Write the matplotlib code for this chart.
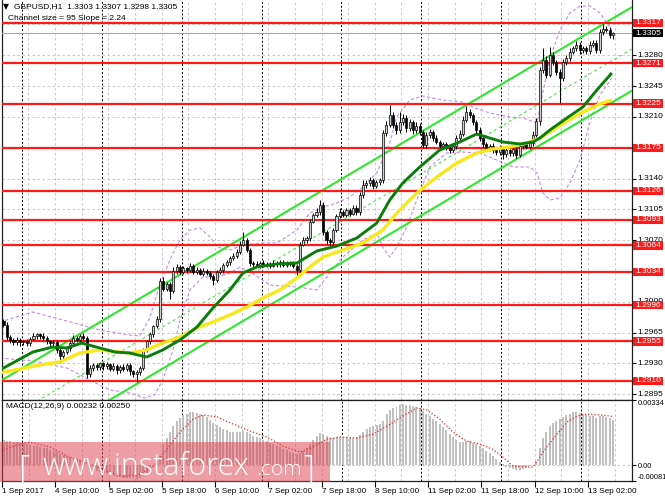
import numpy as np
import matplotlib.pyplot as plt
from matplotlib.patches import Rectangle
from matplotlib.transforms import blended_transform_factory

plt.rcParams['font.family'] = ['Liberation Sans', 'DejaVu Sans']

# ---- data --------------------------------------------------------------
SYMBOL = "GBPUSD,H1"
PIP = 0.0001
FIRST_OPEN = 1.2978

CLOSES = [
    1.2974, 1.2960, 1.2957, 1.2954, 1.2957, 1.2954, 1.2955, 1.2953, 1.2958, 1.2961, 1.2963, 1.2961, 1.2959, 1.2955, 1.2953, 1.2954,
    1.2945, 1.2938, 1.2943, 1.2947, 1.2953, 1.2959, 1.2957, 1.2961, 1.2959, 1.2918, 1.2925, 1.2928, 1.2926, 1.2930, 1.2927, 1.2929,
    1.2924, 1.2927, 1.2922, 1.2926, 1.2924, 1.2928, 1.2921, 1.2918, 1.2920, 1.2925, 1.2945, 1.2955, 1.2963, 1.2972, 1.2980, 1.3024,
    1.3015, 1.3020, 1.3012, 1.3035, 1.3040, 1.3034, 1.3038, 1.3036, 1.3041, 1.3034, 1.3036, 1.3032, 1.3035, 1.3033, 1.3029, 1.3025,
    1.3034, 1.3036, 1.3042, 1.3045, 1.3050, 1.3052, 1.3057, 1.3065, 1.3070, 1.3059, 1.3044, 1.3043, 1.3041, 1.3044, 1.3042, 1.3043,
    1.3041, 1.3044, 1.3043, 1.3045, 1.3042, 1.3044, 1.3043, 1.3041, 1.3036, 1.3065, 1.3070, 1.3072, 1.3091, 1.3099, 1.3102, 1.3110,
    1.3079, 1.3070, 1.3068, 1.3082, 1.3097, 1.3102, 1.3099, 1.3104, 1.3100, 1.3107, 1.3102, 1.3121, 1.3133, 1.3135, 1.3138, 1.3132,
    1.3136, 1.3138, 1.3192, 1.3201, 1.3212, 1.3201, 1.3195, 1.3204, 1.3209, 1.3197, 1.3204, 1.3195, 1.3200, 1.3193, 1.3178, 1.3189,
    1.3193, 1.3186, 1.3182, 1.3177, 1.3179, 1.3175, 1.3172, 1.3177, 1.3186, 1.3191, 1.3207, 1.3216, 1.3212, 1.3204, 1.3195, 1.3186,
    1.3179, 1.3175, 1.3177, 1.3172, 1.3170, 1.3175, 1.3168, 1.3172, 1.3169, 1.3174, 1.3167, 1.3177, 1.3179, 1.3176, 1.3180, 1.3190,
    1.3205, 1.3263, 1.3275, 1.3258, 1.3280, 1.3272, 1.3261, 1.3254, 1.3272, 1.3277, 1.3284, 1.3288, 1.3292, 1.3286, 1.3288, 1.3285,
    1.3292, 1.3294, 1.3286, 1.3306, 1.3310, 1.3309, 1.3303, 1.3305,
]

# wick lengths in pips above / below the body
UP_WICK = [
    2, 3, 2, 2, 3, 2, 2, 3, 2, 3, 2, 2, 3, 2, 2, 3,
    2, 3, 2, 3, 2, 3, 2, 2, 3, 2, 3, 2, 3, 2, 2, 3,
    2, 3, 2, 2, 3, 2, 3, 2, 3, 2, 3, 2, 3, 2, 4, 3,
    4, 3, 2, 4, 3, 2, 3, 2, 3, 2, 3, 2, 3, 2, 2, 3,
    2, 3, 2, 3, 2, 3, 3, 4, 9, 3, 2, 2, 3, 2, 3, 2,
    2, 3, 2, 2, 3, 2, 2, 3, 2, 3, 4, 3, 3, 2, 4, 6,
    3, 2, 3, 2, 3, 4, 2, 3, 2, 3, 3, 4, 5, 3, 4, 3,
    2, 3, 3, 4, 12, 4, 3, 12, 4, 3, 4, 3, 4, 3, 2, 4,
    3, 2, 3, 2, 3, 2, 3, 2, 3, 4, 4, 6, 3, 3, 2, 3,
    2, 3, 2, 3, 2, 3, 2, 3, 2, 3, 2, 3, 3, 2, 3, 4,
    4, 4, 13, 4, 9, 4, 3, 3, 4, 3, 4, 3, 4, 3, 3, 3,
    4, 3, 3, 4, 6, 3, 3, 2,
]
DOWN_WICK = [
    3, 3, 4, 3, 3, 4, 3, 3, 3, 2, 3, 3, 2, 3, 3, 3,
    3, 8, 3, 2, 3, 2, 3, 3, 2, 5, 3, 4, 3, 3, 4, 3,
    3, 3, 4, 3, 3, 3, 4, 4, 9, 3, 3, 2, 3, 3, 2, 3,
    3, 3, 9, 2, 3, 3, 2, 3, 2, 3, 3, 2, 3, 3, 3, 6,
    3, 2, 3, 2, 3, 3, 2, 3, 2, 3, 3, 3, 2, 3, 2, 3,
    3, 2, 3, 3, 2, 3, 2, 3, 6, 3, 2, 3, 3, 2, 3, 3,
    3, 4, 5, 3, 3, 2, 3, 3, 3, 2, 3, 3, 3, 4, 3, 4,
    3, 3, 3, 4, 3, 4, 4, 3, 3, 4, 3, 4, 3, 3, 3, 3,
    3, 3, 3, 4, 3, 3, 3, 2, 3, 3, 3, 3, 3, 3, 3, 3,
    3, 3, 4, 3, 3, 3, 6, 3, 3, 3, 4, 3, 3, 3, 3, 3,
    3, 4, 3, 4, 3, 3, 3, 28, 3, 3, 3, 3, 3, 4, 3, 3,
    3, 3, 3, 3, 3, 3, 3, 5,
]

MACD_HIST = [
    0.00128, 0.00125, 0.00122, 0.00120, 0.00118, 0.00115,
    0.00112, 0.00108, 0.00104, 0.00100, 0.00098, 0.00094,
    0.00090, 0.00086, 0.00080, 0.00074, 0.00066, 0.00058,
    0.00052, 0.00046, 0.00040, 0.00036, 0.00030, 0.00026,
    0.00018, 0.00000, -0.00012, -0.00022, -0.00030, -0.00036,
    -0.00042, -0.00047, -0.00052, -0.00056, -0.00060, -0.00062,
    -0.00064, -0.00066, -0.00068, -0.00070, -0.00070, -0.00066,
    -0.00056, -0.00040, -0.00022, -0.00004, 0.00020, 0.00048,
    0.00110, 0.00140, 0.00170, 0.00200, 0.00225, 0.00240,
    0.00255, 0.00262, 0.00270, 0.00272, 0.00268, 0.00262,
    0.00255, 0.00245, 0.00232, 0.00215, 0.00205, 0.00195,
    0.00185, 0.00178, 0.00172, 0.00170, 0.00168, 0.00172,
    0.00175, 0.00170, 0.00160, 0.00152, 0.00145, 0.00138,
    0.00130, 0.00124, 0.00116, 0.00108, 0.00100, 0.00092,
    0.00085, 0.00078, 0.00070, 0.00062, 0.00056, 0.00060,
    0.00072, 0.00088, 0.00108, 0.00130, 0.00148, 0.00165,
    0.00162, 0.00150, 0.00140, 0.00140, 0.00144, 0.00146,
    0.00144, 0.00142, 0.00140, 0.00138, 0.00142, 0.00156,
    0.00172, 0.00185, 0.00195, 0.00200, 0.00205, 0.00210,
    0.00228, 0.00260, 0.00285, 0.00295, 0.00300, 0.00308,
    0.00314, 0.00310, 0.00308, 0.00304, 0.00298, 0.00292,
    0.00276, 0.00262, 0.00250, 0.00238, 0.00226, 0.00212,
    0.00196, 0.00178, 0.00160, 0.00142, 0.00128, 0.00118,
    0.00120, 0.00124, 0.00122, 0.00116, 0.00108, 0.00098,
    0.00088, 0.00074, 0.00060, 0.00046, 0.00032, 0.00018,
    0.00004, -0.00008, -0.00016, -0.00022, -0.00026, -0.00024,
    -0.00018, -0.00012, -0.00006, 0.00002, 0.00024, 0.00090,
    0.00140, 0.00170, 0.00200, 0.00215, 0.00225, 0.00235,
    0.00248, 0.00258, 0.00264, 0.00270, 0.00272, 0.00268,
    0.00264, 0.00258, 0.00252, 0.00250, 0.00244, 0.00252,
    0.00254, 0.00248, 0.00240, 0.00232,
]

# (bar, value) points
MACD_SIGNAL = [
    (-1.1, 0.00072), (4.9, 0.00108), (7.9, 0.00118), (13.9, 0.00093), (19.9, 0.00041),
    (25.9, 0.00005), (31.9, -0.00036), (35.8, -0.00057), (40.9, -0.00046), (44.8, -0.00010),
    (49.0, 0.00082), (53.0, 0.00170), (56.9, 0.00236), (59.9, 0.00257), (64.1, 0.00247),
    (68.9, 0.00211), (74.0, 0.00175), (79.1, 0.00144), (83.9, 0.00098), (89.0, 0.00067),
    (92.9, 0.00093), (97.1, 0.00134), (101.0, 0.00144), (106.1, 0.00139), (110.9, 0.00159),
    (115.1, 0.00200), (119.9, 0.00252), (124.1, 0.00293), (127.1, 0.00283), (131.0, 0.00236),
    (134.9, 0.00170), (139.1, 0.00123), (143.0, 0.00108), (146.9, 0.00082), (150.0, 0.00041),
    (153.0, -0.00005), (159.0, -0.00010), (162.0, 0.00067), (165.0, 0.00134), (169.2, 0.00221),
    (172.2, 0.00252), (175.2, 0.00262), (179.1, 0.00257), (183.0, 0.00250),
]

MA_FAST = [
    (-1.1, 1.29225), (8.8, 1.29429), (14.8, 1.29486), (19.0, 1.29475), (23.5, 1.29531),
    (28.9, 1.29475), (33.4, 1.29429), (37.9, 1.29418), (43.0, 1.29372), (47.8, 1.29452),
    (53.0, 1.29566), (58.1, 1.29713), (62.9, 1.29929), (68.0, 1.30134), (71.9, 1.30327),
    (76.1, 1.30395), (82.1, 1.30429), (88.1, 1.30440), (94.1, 1.30577), (100.1, 1.30633),
    (106.1, 1.30724), (112.1, 1.30895), (116.0, 1.31156), (119.9, 1.31349), (125.0, 1.31531),
    (131.0, 1.31724), (137.0, 1.31815), (142.1, 1.31906), (146.0, 1.31860), (150.0, 1.31815),
    (155.1, 1.31792), (159.0, 1.31815), (161.1, 1.31860), (164.1, 1.31951), (169.2, 1.32088),
    (174.0, 1.32213), (178.2, 1.32406), (182.7, 1.32599),
]

MA_SLOW = [
    (-1.1, 1.29191), (10.9, 1.29282), (16.9, 1.29316), (22.9, 1.29418), (28.9, 1.29452),
    (37.9, 1.29418), (43.0, 1.29452), (47.8, 1.29531), (53.0, 1.29600), (58.1, 1.29702),
    (62.9, 1.29770), (68.0, 1.29850), (73.1, 1.29940), (77.9, 1.30043), (83.0, 1.30134),
    (88.1, 1.30270), (92.0, 1.30395), (95.9, 1.30508), (101.9, 1.30588), (107.9, 1.30668),
    (113.9, 1.30815), (118.1, 1.31008), (124.1, 1.31235), (130.1, 1.31417), (136.1, 1.31576),
    (142.1, 1.31690), (146.9, 1.31735), (152.1, 1.31758), (157.2, 1.31804), (161.1, 1.31860),
    (165.0, 1.31951), (169.2, 1.32053), (174.0, 1.32156), (179.1, 1.32247), (182.7, 1.32292),
]

BAND_UPPER = [
    (-1.1, 1.29770), (8.8, 1.29884), (19.0, 1.29781), (28.9, 1.29679), (37.9, 1.29622),
    (40.9, 1.29611), (43.9, 1.29816), (46.9, 1.30190), (50.6, 1.30531), (53.0, 1.30702),
    (56.0, 1.30815), (59.0, 1.30838), (62.0, 1.30736), (64.1, 1.30622), (68.0, 1.30588),
    (71.9, 1.30645), (77.9, 1.30668), (82.1, 1.30668), (88.1, 1.30815), (92.0, 1.31008),
    (95.9, 1.31076), (100.1, 1.31122), (104.0, 1.31190), (107.9, 1.31304), (112.1, 1.31463),
    (116.0, 1.31804), (118.1, 1.32099), (122.0, 1.32292), (125.9, 1.32337), (131.9, 1.32292),
    (137.9, 1.32269), (140.9, 1.32212), (146.0, 1.32144), (152.1, 1.32099), (156.0, 1.32088),
    (160.2, 1.32031), (162.0, 1.32383), (164.1, 1.32769), (167.1, 1.33087), (170.1, 1.33280),
    (173.1, 1.33360), (176.1, 1.33360), (179.1, 1.33280), (182.7, 1.33087),
]

BAND_LOWER = [
    (-1.1, 1.29361), (8.8, 1.29327), (19.0, 1.29248), (25.9, 1.29111), (31.9, 1.28998),
    (37.9, 1.28964), (42.4, 1.28907), (45.4, 1.28941), (47.8, 1.29111), (50.9, 1.29452),
    (53.0, 1.29793), (56.0, 1.30134), (59.9, 1.30281), (64.1, 1.30281), (68.0, 1.30327),
    (71.0, 1.30395), (75.5, 1.30304), (80.0, 1.30190), (88.1, 1.30168), (94.1, 1.30134),
    (98.0, 1.30327), (101.9, 1.30508), (107.9, 1.30702), (112.1, 1.30781), (113.9, 1.30622),
    (116.0, 1.30508), (118.1, 1.30622), (121.1, 1.30849), (124.1, 1.31156), (128.0, 1.31531),
    (133.1, 1.31690), (137.9, 1.31701), (143.0, 1.31690), (148.1, 1.31610), (153.0, 1.31531),
    (158.1, 1.31531), (160.2, 1.31463), (162.0, 1.31236), (164.1, 1.31156), (167.1, 1.31179),
    (170.1, 1.31349), (173.1, 1.31610), (176.1, 1.32042), (179.1, 1.32349), (182.7, 1.32542),
]

# regression channel: upper line at bar 0, slope per bar, width
CHANNEL_START = 1.2912
CHANNEL_SLOPE_PIPS = 2.24
CHANNEL_SIZE_PIPS = 95

LEVELS = [1.3317, 1.3271, 1.3225, 1.3175, 1.3126, 1.3093, 1.3064, 1.3034, 1.2996, 1.2955, 1.2910]
PRICE_TICKS = [1.2895, 1.2930, 1.2965, 1.3000, 1.3035, 1.3070, 1.3105, 1.3140,
               1.3175, 1.3210, 1.3245, 1.3280, 1.3315]

TIME_LABELS = ["1 Sep 2017", "4 Sep 10:00", "5 Sep 02:00", "5 Sep 18:00", "6 Sep 10:00",
               "7 Sep 02:00", "7 Sep 18:00", "8 Sep 10:00", "11 Sep 02:00", "11 Sep 18:00",
               "12 Sep 10:00", "13 Sep 02:00"]
DAY_STARTS = [6, 30, 54, 78, 102, 126, 150, 174]   # first bar of each new day
BARS_PER_LABEL = 16
BARS_PER_GRID = 8

MACD_MIN, MACD_MAX = -0.00081, 0.00334
Y_MIN, Y_MAX = 1.28884, 1.33428

# ---- derived candle arrays ------------------------------------------------
closes = np.array(CLOSES)
n = len(closes)
opens = np.concatenate([[FIRST_OPEN], closes[:-1]])
highs = np.maximum(opens, closes) + np.array(UP_WICK) * PIP
lows = np.minimum(opens, closes) - np.array(DOWN_WICK) * PIP
xs = np.arange(n)
bull = closes >= opens

W, H = 665, 499
fig = plt.figure(figsize=(W / 100, H / 100), dpi=100)
ax = fig.add_axes([2 / W, 99 / H, 630 / W, 400 / H])
ax2 = fig.add_axes([2 / W, 18 / H, 630 / W, 81 / H])

XLIM = (-0.45, 188.74)
GRID_COLOR = "#c0c0c0"

for a in (ax, ax2):
    a.set_xlim(*XLIM)
    for g in np.arange(0, n + 8, BARS_PER_GRID) - 0.5:
        a.axvline(g, color=GRID_COLOR, lw=0.6, ls=(0, (3, 3)), zorder=1)
    for d in DAY_STARTS:
        a.axvline(d - 0.5, color="black", lw=0.7, ls=(0, (2, 2)), zorder=1.5)
    for s in a.spines.values():
        s.set_linewidth(0.9)
        s.set_color("#202020")
ax.spines["top"].set_visible(False)

# main panel
ax.set_ylim(Y_MIN, Y_MAX)
for t in PRICE_TICKS:
    ax.axhline(t, color=GRID_COLOR, lw=0.6, ls=(0, (3, 3)), zorder=1)

# bollinger-like envelope
for band in (BAND_UPPER, BAND_LOWER):
    b, v = zip(*band)
    ax.plot(b, v, color="#c58af0", lw=0.8, ls=(0, (3, 2)), zorder=2)

# regression channel
cx = np.array(XLIM)
upper = CHANNEL_START + CHANNEL_SLOPE_PIPS * PIP * cx
ax.plot(cx, upper, color="#2ee82e", lw=1.5, zorder=3)
ax.plot(cx, upper - CHANNEL_SIZE_PIPS * PIP, color="#2ee82e", lw=1.5, zorder=3)
ax.plot(cx, upper - CHANNEL_SIZE_PIPS * PIP / 2, color="#2ee82e", lw=0.7,
        ls=(0, (3, 3)), zorder=3)

# levels
for lv in LEVELS:
    ax.axhline(lv, color="#ff1a1a", lw=1.6, zorder=3.5)
ax.axhline(closes[-1], color="#a8a8a8", lw=0.8, zorder=3.4)

# candles
ax.vlines(xs, lows, highs, color="black", lw=0.7, zorder=4)
body_low = np.minimum(opens, closes)
body_h = np.maximum(np.abs(closes - opens), 0.00004)
ax.bar(xs[bull], body_h[bull], bottom=body_low[bull], width=0.62,
       color="#cfcfcf", edgecolor="black", lw=0.5, zorder=5)
ax.bar(xs[~bull], body_h[~bull], bottom=body_low[~bull], width=0.62,
       color="black", edgecolor="black", lw=0.5, zorder=5)

# moving averages
b, v = zip(*MA_SLOW)
ax.plot(b, v, color="#f7e81a", lw=2.4, zorder=6, solid_capstyle="butt")
b, v = zip(*MA_FAST)
ax.plot(b, v, color="#0b7d0b", lw=2.1, zorder=6.5, solid_capstyle="butt")

# right price scale: tick marks from the axis, labels as texts so the tags cover them
tag_tr = blended_transform_factory(ax.transAxes, ax.transData)
px_x = 1 / 630
px_y = (Y_MAX - Y_MIN) / 400

ax.set_xticks([])
ax.yaxis.tick_right()
ax.set_yticks(PRICE_TICKS)
ax.set_yticklabels([])
ax.tick_params(axis="y", length=3, width=0.8)
tagged = LEVELS + [closes[-1]]
for t in PRICE_TICKS:
    # a tag sitting right on the tick hides its label completely
    if min(abs(t - lv) for lv in tagged) < 3 * PIP:
        continue
    ax.text(1 + 5 * px_x, t, f"{t:.4f}", transform=tag_tr, ha="left", va="center",
            fontsize=6, color="black", clip_on=False, zorder=15)


def price_tag(value, face):
    ax.add_patch(Rectangle((1 + 1 * px_x, value - 4.2 * px_y), 30 * px_x, 8.4 * px_y,
                           transform=tag_tr, facecolor=face, edgecolor="none",
                           clip_on=False, zorder=20))
    ax.text(1 + 16 * px_x, value, f"{value:.4f}", transform=tag_tr, ha="center",
            va="center", fontsize=6, color="white", clip_on=False, zorder=21)


for lv in LEVELS:
    price_tag(lv, "#ff1a1a")
price_tag(closes[-1], "black")

# MACD panel
ax2.set_ylim(MACD_MIN, MACD_MAX)
ax2.axhline(0, color=GRID_COLOR, lw=0.6, ls=(0, (3, 3)), zorder=1)
ax2.bar(xs, MACD_HIST, width=0.6, color="#c0c0c0", zorder=3)
b, v = zip(*MACD_SIGNAL)
ax2.plot(b, v, color="#ff2020", lw=0.9, ls=(0, (1, 1.6)), zorder=4)

ax2.yaxis.tick_right()
ax2.set_yticks([MACD_MIN, 0, MACD_MAX])
ax2.set_yticklabels([f"{MACD_MIN:.5f}", "0.00", f"{MACD_MAX:.5f}"])
ax2.tick_params(axis="y", length=3, width=0.8, labelsize=5.3, pad=0.8)
ylabels = ax2.get_yticklabels()
ylabels[0].set_va("bottom")
ylabels[2].set_va("top")

label_pos = np.arange(len(TIME_LABELS)) * BARS_PER_LABEL - 0.5
ax2.set_xticks(label_pos)
ax2.set_xticklabels(TIME_LABELS, ha="left")
ax2.tick_params(axis="x", length=4, width=0.8, labelsize=5.9, pad=1)

# header texts
o, h, l, c = opens[-1], highs[-1], lows[-1], closes[-1]
fig.text(3 / W, 1 - 7 / H, "\u25bc", fontsize=5.5, va="center", family="DejaVu Sans")
fig.text(14 / W, 1 - 7 / H, f"{SYMBOL}  {o:.4f} {h:.4f} {l:.4f} {c:.4f}",
         fontsize=6, va="center")
fig.text(8 / W, 1 - 19 / H,
         f"Channel size = {CHANNEL_SIZE_PIPS} Slope = {CHANNEL_SLOPE_PIPS:.2f}",
         fontsize=6, va="center")
fig.text(6 / W, 1 - 407 / H,
         f"MACD(12,26,9) {MACD_HIST[-1]:.5f} {v[-1]:.5f}", fontsize=6, va="center")

# watermark
fig.patches.append(Rectangle((0, 17 / H), 330 / W, 40 / H, transform=fig.transFigure,
                             facecolor="#dc3c48", alpha=0.5, edgecolor="none", zorder=10))
wm = dict(color="white", va="baseline", ha="left", zorder=11, family="Open Sans",
          fontweight="light")
fig.text(19 / W, 1 - 479 / H, "[", fontsize=25, **wm)
fig.text(43 / W, 1 - 475 / H, "www.instaforex", fontsize=22, **wm)
fig.text(256 / W, 1 - 475 / H, ".com", fontsize=15, **wm)
fig.text(303 / W, 1 - 479 / H, "]", fontsize=25, **wm)

fig.savefig("out.png", dpi=100, facecolor="white")
